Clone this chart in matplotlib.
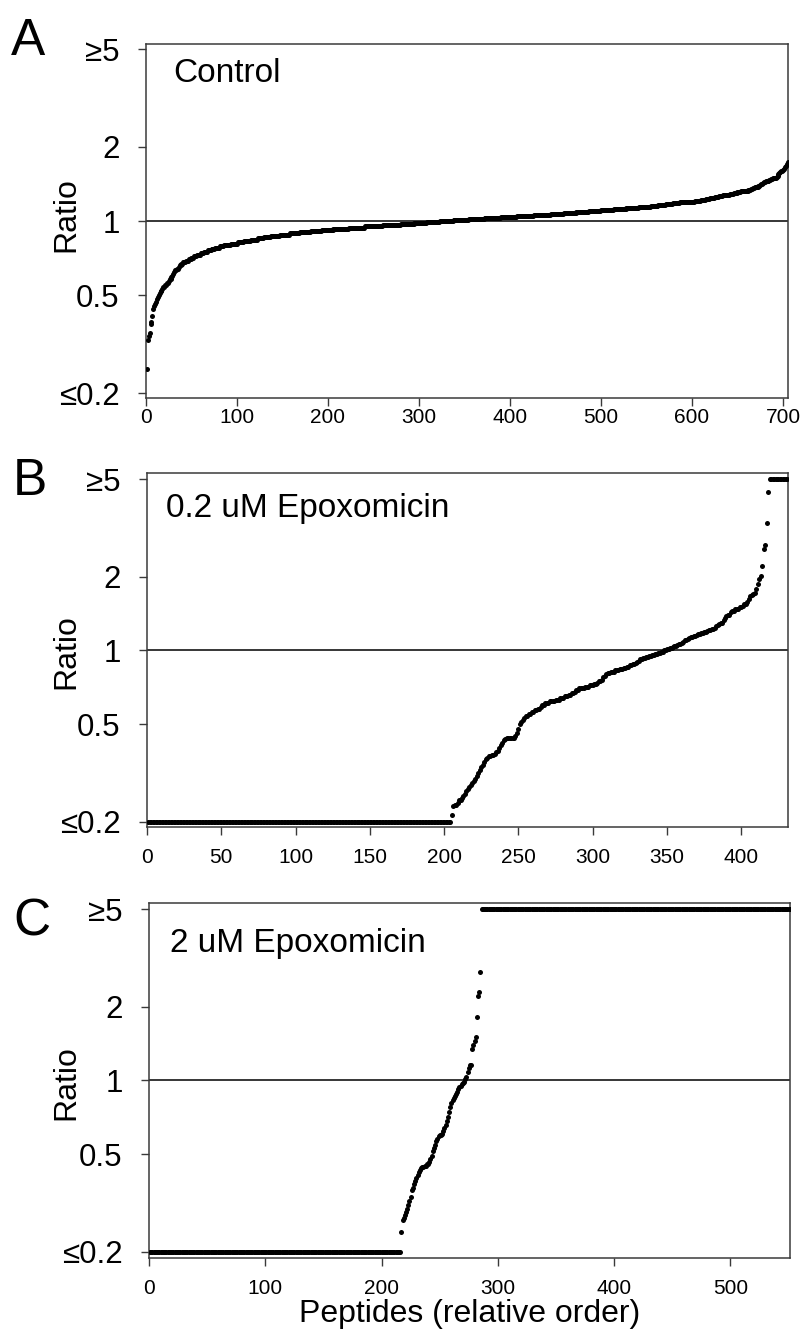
import numpy as np
import matplotlib
matplotlib.use("Agg")
import matplotlib.pyplot as plt
from matplotlib.ticker import FixedLocator, FixedFormatter, NullLocator

plt.rcParams['font.family'] = ['Liberation Sans', 'DejaVu Sans']

# ---------------- data (sorted ratios: value levels and number of peptides) ----------------
ratio_A = [0.25, 0.33, 0.34, 0.35, 0.38, 0.39, 0.41, 0.44, 0.45, 0.46, 0.47, 0.48, 0.49, 0.50,
           0.51, 0.52, 0.53, 0.54, 0.55, 0.56, 0.57, 0.58, 0.59, 0.60, 0.61, 0.62, 0.63, 0.64, 0.65, 0.66,
           0.67, 0.68, 0.69, 0.70, 0.71, 0.72, 0.73, 0.74, 0.75, 0.76, 0.77, 0.78, 0.79, 0.80, 0.81,
           0.82, 0.83, 0.84, 0.85, 0.86, 0.87, 0.88, 0.89, 0.90, 0.91, 0.92, 0.93, 0.94, 0.95, 0.96,
           0.97, 0.98, 0.99, 1.00, 1.01, 1.02, 1.03, 1.04, 1.05, 1.06, 1.07, 1.08, 1.09, 1.10,
           1.11, 1.12, 1.13, 1.14, 1.15, 1.16, 1.17, 1.18, 1.19, 1.20, 1.21, 1.22, 1.23, 1.24, 1.25,
           1.26, 1.27, 1.28, 1.29, 1.30, 1.31, 1.32, 1.33, 1.34, 1.35, 1.36, 1.37, 1.38, 1.39, 1.40,
           1.41, 1.42, 1.43, 1.44, 1.45, 1.46, 1.47, 1.48, 1.49, 1.50, 1.51, 1.53, 1.55, 1.57, 1.58,
           1.59, 1.60, 1.61, 1.63, 1.65, 1.67, 1.70, 1.74]
count_A = [1, 1, 1, 1, 1, 1, 1, 1, 1, 1, 1, 1, 1, 1,
           1, 2, 1, 2, 2, 2, 1, 2, 1, 1, 1, 1, 2, 2, 1, 2,
           2, 3, 3, 3, 3, 3, 4, 4, 4, 4, 4, 5, 5, 7, 8,
           7, 7, 8, 7, 7, 10, 11, 11, 12, 12, 13, 17, 18, 19, 20,
           15, 14, 14, 15, 17, 17, 18, 18, 18, 19, 14, 14, 14, 13,
           14, 14, 14, 13, 8, 8, 8, 8, 8, 8, 7, 5, 5, 5, 5,
           4, 4, 4, 4, 4, 4, 4, 4, 3, 2, 2, 2, 2, 2, 1,
           1, 1, 1, 2, 2, 2, 2, 2, 2, 2, 1, 1, 1, 1, 1,
           1, 1, 1, 1, 1, 1, 1, 1]

ratio_B = [0.20, 0.214, 0.232, 0.235, 0.24, 0.245, 0.25, 0.255, 0.26, 0.267, 0.272, 0.277, 0.282,
           0.288, 0.295, 0.30, 0.307, 0.317, 0.327, 0.335, 0.343, 0.35, 0.36, 0.365, 0.37, 0.375,
           0.38, 0.385, 0.39, 0.40, 0.41, 0.42, 0.43, 0.435, 0.44, 0.45, 0.46, 0.48, 0.50, 0.51,
           0.52, 0.53, 0.54, 0.55, 0.56, 0.57, 0.58, 0.59, 0.60, 0.61, 0.62, 0.63, 0.64, 0.65,
           0.66, 0.67, 0.68, 0.69, 0.70, 0.71, 0.72, 0.73, 0.74, 0.75,
           0.76, 0.78, 0.79, 0.80, 0.81, 0.82, 0.83, 0.84, 0.85, 0.86, 0.87, 0.88, 0.89, 0.90,
           0.91, 0.92, 0.93, 0.94, 0.95, 0.96, 0.97, 0.98, 0.99, 1.00, 1.01, 1.02, 1.03, 1.04,
           1.05, 1.06, 1.07, 1.08, 1.10, 1.11, 1.12, 1.13, 1.14, 1.15, 1.16, 1.17, 1.18, 1.19,
           1.20, 1.21, 1.22, 1.24, 1.26, 1.27, 1.28, 1.30, 1.33, 1.36, 1.38, 1.40,
           1.43, 1.45, 1.47, 1.50, 1.52, 1.55, 1.58, 1.62, 1.66, 1.68, 1.70, 1.72, 1.78, 1.86,
           1.95, 2.01, 2.22, 2.60, 2.70, 3.31, 4.41, 5.0]
count_B = [204, 1, 1, 2, 1, 2, 1, 1, 1, 1, 1, 1, 1,
           1, 1, 1, 1, 1, 1, 1, 1, 1, 1, 1, 2, 2,
           1, 1, 1, 1, 1, 1, 1, 1, 6, 1, 1, 1, 1, 1,
           1, 1, 2, 2, 2, 2, 2, 1, 2, 3, 4, 3, 3, 3,
           2, 2, 1, 2, 4, 3, 3, 2, 1, 2,
           1, 1, 1, 1, 2, 3, 3, 3, 2, 2, 2, 2, 1, 1,
           1, 2, 2, 2, 2, 2, 2, 2, 2, 2, 2, 2, 1, 2,
           1, 2, 1, 1, 2, 1, 1, 1, 1, 2, 1, 2, 2, 2,
           1, 2, 2, 1, 1, 1, 1, 2, 1, 1, 1, 2,
           1, 2, 3, 2, 1, 2, 1, 1, 1, 1, 1, 1, 1, 1,
           1, 1, 1, 1, 1, 1, 1, 13]

ratio_C = [0.20, 0.242, 0.27, 0.275, 0.282, 0.29, 0.298, 0.31, 0.322, 0.335, 0.357, 0.365, 0.377,
           0.39, 0.401, 0.41, 0.423, 0.43, 0.44, 0.445, 0.45, 0.455, 0.465, 0.477, 0.49, 0.515,
           0.53, 0.548, 0.565, 0.58, 0.593, 0.60, 0.608, 0.625, 0.641, 0.66, 0.682, 0.71, 0.743,
           0.78, 0.811, 0.83, 0.85, 0.863, 0.88, 0.90, 0.919, 0.94, 0.954, 0.97, 0.978, 0.99,
           1.01, 1.03, 1.08, 1.12, 1.16, 1.34, 1.40, 1.45, 1.50, 1.82, 2.20, 2.30, 2.77, 5.0]
count_C = [216, 1, 1, 1, 1, 1, 1, 1, 1, 1, 1, 1, 1,
           1, 1, 1, 1, 1, 1, 2, 2, 2, 1, 1, 1, 1,
           1, 1, 1, 1, 1, 2, 1, 1, 1, 1, 1, 1, 1,
           1, 1, 1, 1, 1, 1, 1, 1, 1, 1, 1, 1, 1,
           1, 1, 1, 1, 2, 1, 1, 1, 1, 1, 1, 1, 1, 266]

panel_letters = ["A", "B", "C"]
panel_titles = ["Control", "0.2 uM Epoxomicin", "2 uM Epoxomicin"]
ytick_vals = [0.2, 0.5, 1, 2, 5]
ytick_labels = ["\u22640.2", "0.5", "1", "2", "\u22655"]
xticks_A = [0, 100, 200, 300, 400, 500, 600, 700]
xticks_B = [0, 50, 100, 150, 200, 250, 300, 350, 400]
xticks_C = [0, 100, 200, 300, 400, 500]
xlabel_text = "Peptides (relative order)"
ylabel_text = "Ratio"

# ---------------- layout ----------------
W, H = 803, 1332
fig = plt.figure(figsize=(W / 100, H / 100), dpi=100)

def fx(px):
    return px / W

def fy(py):
    return 1 - py / H

# (left, top, right, bottom) in pixels
boxes = [(146, 44, 788, 398), (147, 473, 788, 827), (149, 903, 790, 1258)]
ylims = [(0.1909, 5.24), (0.1908, 5.29), (0.189, 5.29)]
xlims = [(0, 705.5), (0, 431.4), (0, 551.2)]
xtick_sets = [xticks_A, xticks_B, xticks_C]
xpads = [1.5, 9, 9]
datasets = [(ratio_A, count_A), (ratio_B, count_B), (ratio_C, count_C)]
letter_pos = [(11, 55), (13, 495), (13, 936)]
title_pos = [(173, 82), (166, 517), (170, 952)]

frame_col = "#3a3a3a"
for i in range(3):
    l, t, r, b = boxes[i]
    ax = fig.add_axes([fx(l), fy(b), (r - l) / W, (b - t) / H])
    ratios, counts = datasets[i]
    y = np.repeat(np.array(ratios, dtype=float), counts)
    x = np.arange(1, len(y) + 1)
    ax.axhline(1.0, color="black", lw=1.1, zorder=1)
    ax.plot(x, y, linestyle="none", marker="o", ms=3.6, mew=0, color="black", zorder=3)
    ax.set_yscale("log")
    ax.set_ylim(*ylims[i])
    ax.set_xlim(*xlims[i])
    ax.yaxis.set_major_locator(FixedLocator(ytick_vals))
    ax.yaxis.set_major_formatter(FixedFormatter(ytick_labels))
    ax.yaxis.set_minor_locator(NullLocator())
    ax.set_xticks(xtick_sets[i])
    ax.set_xticklabels([str(v) for v in xtick_sets[i]])
    ax.tick_params(axis="y", direction="out", length=6, width=1, colors=frame_col,
                   labelcolor="black", labelsize=22.5, pad=13)
    ax.tick_params(axis="x", direction="out", length=6, width=1, colors=frame_col,
                   labelcolor="black", labelsize=15, pad=xpads[i])
    for s in ax.spines.values():
        s.set_color(frame_col)
        s.set_linewidth(1.1)
    fig.text(fx(66), fy((t + b) / 2 - 6 if i == 0 else (t + b) / 2 + 2), ylabel_text,
             rotation=90, ha="center", va="center", fontsize=23)
    lx, ly = letter_pos[i]
    fig.text(fx(lx), fy(ly), panel_letters[i], ha="left", va="baseline", fontsize=37)
    tx, ty = title_pos[i]
    fig.text(fx(tx), fy(ty), panel_titles[i], ha="left", va="baseline", fontsize=24)
    if i == 2:
        ax.set_xlabel(xlabel_text, fontsize=23, labelpad=1)

fig.savefig("out.png", dpi=100)
